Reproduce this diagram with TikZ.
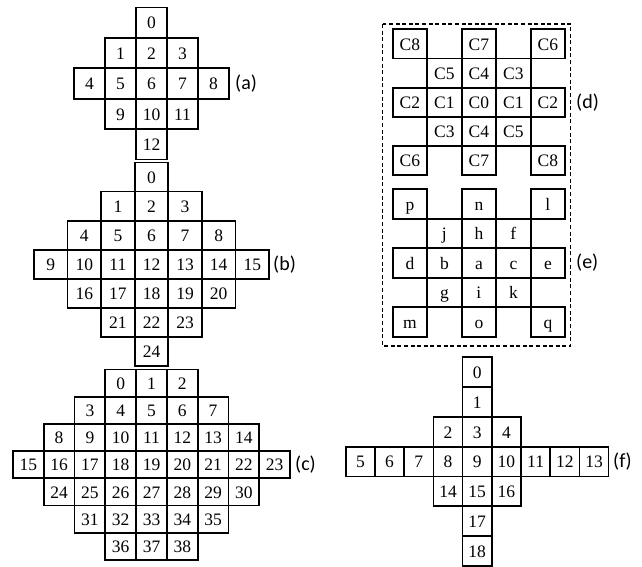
\documentclass[tikz,border=0pt]{standalone}
\usepackage{fontspec}
\setmainfont{Liberation Serif}
\newfontfamily\cellfont{Liberation Serif}
\newfontfamily\labfont{Carlito}
\tikzset{
  cell/.style={draw, line width=1.7pt, inner sep=0pt, text height=12.5pt, text depth=0pt,
    font=\cellfont\fontsize{17.5}{17.5}\selectfont},
  lab/.style={font=\labfont\fontsize{20}{20}\selectfont, anchor=west, inner sep=0pt},
  frame/.style={draw, dashed, line width=1.3pt, dash pattern=on 4pt off 2.6pt}
}
% consecutive cells: name prefix, centre x, width, centre y, height, first offset, texts
\newcommand\crow[7]{%
  \foreach \t [count=\k from 0] in {#7}
    \node[cell, minimum width=#3pt, minimum height=#5pt] (#1\k) at ({#2+(#6+\k)*#3}, #4) {\t};}
% cells at given offsets: name prefix, centre x, width, centre y, height, offset/text list
\newcommand\prow[6]{%
  \foreach \p/\t [count=\k from 0] in {#6}
    \node[cell, minimum width=#3pt, minimum height=#5pt] (#1\k) at ({#2+\p*#3}, #4) {\t};}
\begin{document}
\begin{tikzpicture}[x=1pt,y=-1pt]
\useasboundingbox (0,0) rectangle (642,567);
% (a)
\crow{a0-}{151.5}{31}{22.7}{30.4}{0}{0}
\crow{a1-}{151.5}{31}{53.1}{30.4}{-1}{1,2,3}
\crow{a2-}{151.5}{31}{83.5}{30.4}{-2}{4,5,6,7,8}
\crow{a3-}{151.5}{31}{113.9}{30.4}{-1}{9,10,11}
\crow{a4-}{151.5}{31}{144.3}{30.4}{0}{12}
\node[lab] (la) at (235,83.5) {(a)};
% (b)
\crow{b0-}{151.5}{33.6}{177.0}{29.07}{0}{0}
\crow{b1-}{151.5}{33.6}{206.1}{29.07}{-1}{1,2,3}
\crow{b2-}{151.5}{33.6}{235.2}{29.07}{-2}{4,5,6,7,8}
\crow{b3-}{151.5}{33.6}{264.3}{29.07}{-3}{9,10,11,12,13,14,15}
\crow{b4-}{151.5}{33.6}{293.3}{29.07}{-2}{16,17,18,19,20}
\crow{b5-}{151.5}{33.6}{322.4}{29.07}{-1}{21,22,23}
\crow{b6-}{151.5}{33.6}{351.5}{29.07}{0}{24}
\node[lab] (lb) at (273,264.3) {(b)};
% (c)
\crow{c0-}{151.5}{30.8}{383.1}{27.2}{-1}{0,1,2}
\crow{c1-}{151.5}{30.8}{410.3}{27.2}{-2}{3,4,5,6,7}
\crow{c2-}{151.5}{30.8}{437.5}{27.2}{-3}{8,9,10,11,12,13,14}
\crow{c3-}{151.5}{30.8}{464.7}{27.2}{-4}{15,16,17,18,19,20,21,22,23}
\crow{c4-}{151.5}{30.8}{491.9}{27.2}{-3}{24,25,26,27,28,29,30}
\crow{c5-}{151.5}{30.8}{519.1}{27.2}{-2}{31,32,33,34,35}
\crow{c6-}{151.5}{30.8}{546.3}{27.2}{-1}{36,37,38}
\node[lab] (lc) at (295,464.7) {(c)};
% dashed frame round (d) and (e)
\draw[frame] (382.7,24) rectangle (570.7,346);
% (d)
\prow{d0-}{478.9}{34.5}{43.9}{29.2}{-2/C8,0/C7,2/C6}
\prow{d1-}{478.9}{34.5}{73.1}{29.2}{-1/C5,0/C4,1/C3}
\prow{d2-}{478.9}{34.5}{102.3}{29.2}{-2/C2,-1/C1,0/C0,1/C1,2/C2}
\prow{d3-}{478.9}{34.5}{131.5}{29.2}{-1/C3,0/C4,1/C5}
\prow{d4-}{478.9}{34.5}{160.7}{29.2}{-2/C6,0/C7,2/C8}
\node[lab] (ld) at (576,102.3) {(d)};
% (e)
\prow{e0-}{478.9}{34.5}{204.05}{29.5}{-2/p,0/n,2/l}
\prow{e1-}{478.9}{34.5}{233.55}{29.5}{-1/j,0/h,1/f}
\prow{e2-}{478.9}{34.5}{263.05}{29.5}{-2/d,-1/b,0/a,1/c,2/e}
\prow{e3-}{478.9}{34.5}{292.55}{29.5}{-1/g,0/i,1/k}
\prow{e4-}{478.9}{34.5}{322.05}{29.5}{-2/m,0/o,2/q}
\node[lab] (le) at (576,263.05) {(e)};
% (f)
\crow{f0-}{477.2}{29.2}{372.2}{29.8}{0}{0}
\crow{f1-}{477.2}{29.2}{402.0}{29.8}{0}{1}
\crow{f2-}{477.2}{29.2}{431.8}{29.8}{-1}{2,3,4}
\crow{f3-}{477.2}{29.2}{461.6}{29.8}{-4}{5,6,7,8,9,10,11,12,13}
\crow{f4-}{477.2}{29.2}{491.4}{29.8}{-1}{14,15,16}
\crow{f5-}{477.2}{29.2}{521.2}{29.8}{0}{17}
\crow{f6-}{477.2}{29.2}{551.0}{29.8}{0}{18}
\node[lab] (lf) at (613,461.6) {(f)};
\end{tikzpicture}
\end{document}
